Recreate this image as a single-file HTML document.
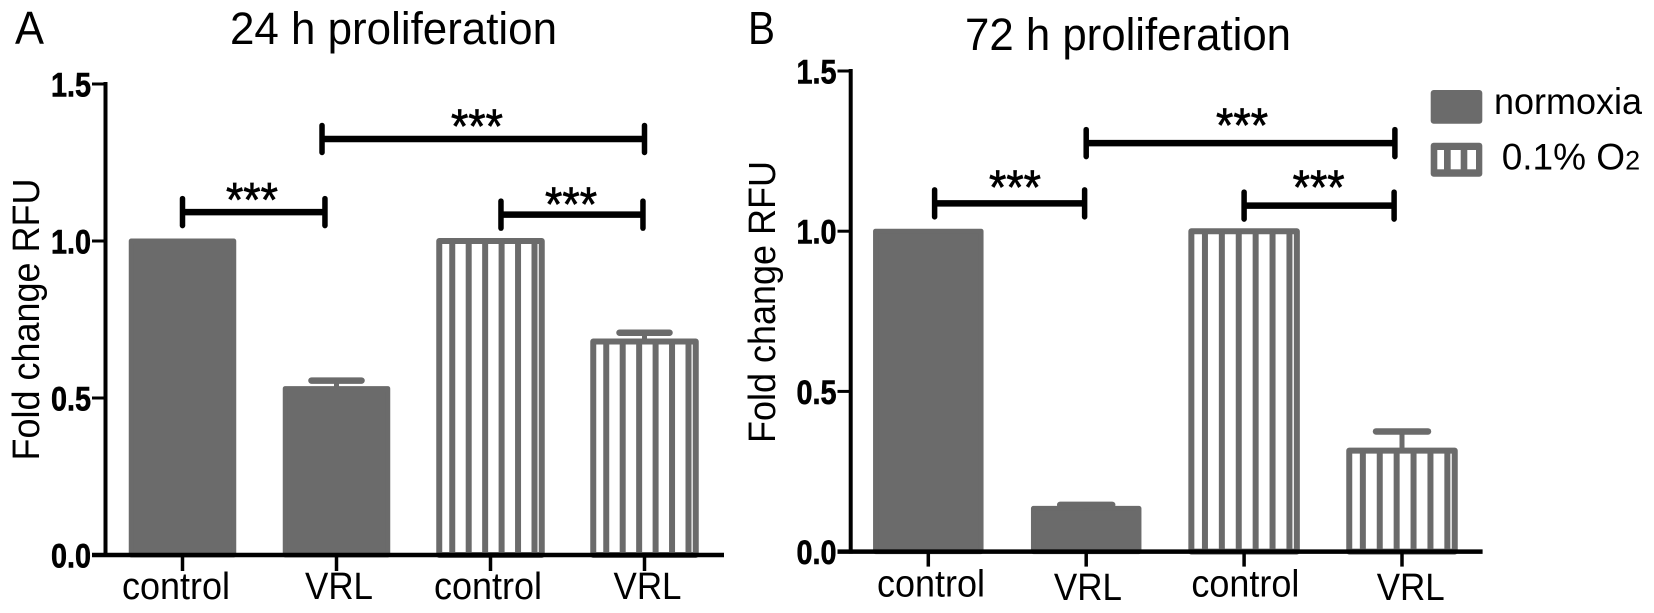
<!DOCTYPE html>
<html lang="en">
<head>
<meta charset="utf-8">
<title>Proliferation at 24 h and 72 h</title>
<style>
  html, body { margin: 0; padding: 0; background: #fff; }
  body { width: 1654px; height: 613px; overflow: hidden; }
  svg { display: block; }
  text { font-family: "Liberation Sans", sans-serif; fill: #000; }
</style>
</head>
<body>
<svg id="figure" xmlns="http://www.w3.org/2000/svg" width="1654" height="613" viewBox="0 0 1654 613">
  <rect x="0" y="0" width="1654" height="613" fill="#fff"/>
  <text x="15" y="44" font-size="46" textLength="29" lengthAdjust="spacingAndGlyphs">A</text>
  <text x="748" y="44" font-size="46" textLength="27" lengthAdjust="spacingAndGlyphs">B</text>
  <text x="230" y="44" font-size="45" textLength="327" lengthAdjust="spacingAndGlyphs">24 h proliferation</text>
  <text x="965" y="50" font-size="45" textLength="326" lengthAdjust="spacingAndGlyphs">72 h proliferation</text>
  <text transform="translate(39 460.5) rotate(-90)" font-size="38" textLength="282" lengthAdjust="spacingAndGlyphs">Fold change RFU</text>
  <text transform="translate(775 443) rotate(-90)" font-size="38" textLength="282" lengthAdjust="spacingAndGlyphs">Fold change RFU</text>

  <g>
    <rect x="1430.7" y="90" width="51.6" height="33.7" rx="3" fill="#6b6b6b"/>
    <text x="1494" y="114" font-size="37" textLength="148" lengthAdjust="spacingAndGlyphs">normoxia</text>
    <g>
      <rect x="1430.7" y="142.7" width="51.6" height="34" rx="3" fill="#6b6b6b"/>
      <rect x="1437.3" y="150" width="6.7" height="19.3" fill="#fff"/>
      <rect x="1450.7" y="150" width="10" height="19.3" fill="#fff"/>
      <rect x="1467.3" y="150" width="8.7" height="19.3" fill="#fff"/>
    </g>
    <text x="1501.7" y="169.3" font-size="37" xml:space="preserve">0.1% O<tspan font-size="27">2</tspan></text>
  </g>
  <g id="panel-a"></g>
  <g id="panel-b"></g>
</svg>
<script>
// ---- chart data ----
const categories = ['control', 'VRL', 'control', 'VRL'];
const conditions = ['normoxia', 'normoxia', 'hypoxia', 'hypoxia'];
const yTicks = [0, 0.5, 1, 1.5];
const yTickLabels = ['0.0', '0.5', '1.0', '1.5'];

const valuesA = [1.0, 0.53, 1.0, 0.68];
const errorsA = [0, 0.0255, 0, 0.028];
const valuesB = [1.0, 0.135, 1.0, 0.315];
const errorsB = [0, 0.011, 0, 0.06];

// significance brackets, in category units (x) and fold-change units (level)
const bracketFromA = [0.906, 0, 2.068];
const bracketToA = [3.0, 0.925, 2.99];
const bracketLevelA = [1.325, 1.092, 1.084];
const starXA = [1.912, 0.451, 2.523];
const starLevelA = [1.313, 1.079, 1.065];

const bracketFromB = [1.0, 0.04, 2.0];
const bracketToB = [2.955, 0.99, 2.95];
const bracketLevelB = [1.275, 1.087, 1.08];
const starXB = [1.987, 0.549, 2.472];
const starLevelB = [1.28, 1.086, 1.086];

const starText = '***';
const GREY = '#6b6b6b';
const SVG_NS = 'http://www.w3.org/2000/svg';

function mk(parent, tag, attrs) {
  const el = document.createElementNS(SVG_NS, tag);
  for (const k in attrs) el.setAttribute(k, attrs[k]);
  parent.appendChild(el);
  return el;
}

function drawPanel(root, p) {
  const xPos = i => p.x0 + p.step * i;
  const yPos = v => p.y0 - p.yScale * v;

  // bars
  p.values.forEach((v, i) => {
    const c = xPos(i);
    const left = c - p.barW / 2;
    const top = yPos(v);
    const base = yPos(0);
    const g = mk(root, 'g', {});
    
    
    if (conditions[i] === 'normoxia') {
      const r = mk(g, 'rect', { x: left, y: top, width: p.barW, height: base - top, fill: GREY, stroke: GREY, 'stroke-width': 5, 'stroke-linejoin': 'round' });
      
      
    } else {
      const r = mk(g, 'rect', { x: left, y: top, width: p.barW, height: base - top, fill: '#fff', stroke: GREY, 'stroke-width': 6, 'stroke-linejoin': 'round' });
      
      
      for (let sx = left + p.hatchFirst; sx < left + p.barW - 3; sx += p.hatchStep) {
        const s = mk(g, 'line', { x1: sx, x2: sx, y1: top, y2: base, stroke: GREY, 'stroke-width': 6 });
        
        
      }
    }
    // error bar
    if (p.errors[i] > 0) {
      const eTop = yPos(v + p.errors[i]);
      const stem = mk(g, 'line', { x1: c, x2: c, y1: top, y2: eTop, stroke: GREY, 'stroke-width': 5 });
      
      
      const cap = mk(g, 'line', { x1: c - p.capW / 2, x2: c + p.capW / 2, y1: eTop, y2: eTop, stroke: GREY, 'stroke-width': 6.5, 'stroke-linecap': 'round' });
      
      
    }
  });

  // y axis
  const yAxis = mk(root, 'line', { x1: p.axisX, x2: p.axisX, y1: yPos(1.5) - 2, y2: yPos(0) + 2, stroke: '#000', 'stroke-width': 4 });
  
  
  yTicks.forEach((t, i) => {
    const y = yPos(t);
    const tick = mk(root, 'line', { x1: p.axisLeft, x2: p.axisX, y1: y, y2: y, stroke: '#000', 'stroke-width': 3 });
    
    
    const lab = mk(root, 'text', { x: p.axisLeft - 1, y: y + 12.5, 'text-anchor': 'end', 'font-size': 34, 'font-weight': 'bold', textLength: 40, lengthAdjust: 'spacingAndGlyphs', stroke: '#000', 'stroke-width': 0.6 });
    lab.textContent = yTickLabels[i];
    
    
  });

  // x axis
  const xAxis = mk(root, 'line', { x1: p.axisLeft, x2: p.axisRight, y1: yPos(0), y2: yPos(0), stroke: '#000', 'stroke-width': 4.5 });
  
  
  categories.forEach((name, i) => {
    const c = xPos(i);
    const tick = mk(root, 'line', { x1: c, x2: c, y1: yPos(0), y2: yPos(0) + p.tickLen, stroke: '#000', 'stroke-width': 3.5 });
    
    
    const lab = mk(root, 'text', { x: c + p.labelNudge[i], y: p.labelBase[i], 'text-anchor': 'middle', 'font-size': 38, textLength: name === 'VRL' ? 68 : 108, lengthAdjust: 'spacingAndGlyphs' });
    lab.textContent = name;
    
    
  });

  // significance brackets
  p.brFrom.forEach((f, i) => {
    const y = yPos(p.brLevel[i]);
    const x1 = xPos(f);
    const x2 = xPos(p.brTo[i]);
    const g = mk(root, 'g', { stroke: '#000', fill: 'none' });
    
    
    const h = mk(g, 'line', { x1: x1, x2: x2, y1: y, y2: y, 'stroke-width': 6.5 });
    
    
    const e1 = mk(g, 'line', { x1: x1, x2: x1, y1: y - 13.5, y2: y + 13.5, 'stroke-width': 5.5, 'stroke-linecap': 'round' });
    
    
    const e2 = mk(g, 'line', { x1: x2, x2: x2, y1: y - 13.5, y2: y + 13.5, 'stroke-width': 5.5, 'stroke-linecap': 'round' });
    
    
    const st = mk(root, 'text', { x: xPos(p.starX[i]), y: yPos(p.starLevel[i]), 'text-anchor': 'middle', 'font-size': 48, textLength: 52, lengthAdjust: 'spacingAndGlyphs', stroke: '#000', 'stroke-width': 0.7 });
    st.textContent = starText;
    
    
  });
}

drawPanel(document.getElementById('panel-a'), {
  x0: 182.5, step: 154, y0: 555, yScale: 314, barW: 102.5, capW: 50,
  hatchFirst: 13, hatchStep: 16.45,
  axisX: 105.5, axisLeft: 92, axisRight: 724, tickLen: 16,
  labelNudge: [-6.5, 2.5, -2.5, 3], labelBase: [599, 599, 599, 599],
  values: valuesA, errors: errorsA,
  brFrom: bracketFromA, brTo: bracketToA, brLevel: bracketLevelA,
  starX: starXA, starLevel: starLevelA
});

drawPanel(document.getElementById('panel-b'), {
  x0: 928.3, step: 157.9, y0: 551.6, yScale: 320.4, barW: 105.5, capW: 52,
  hatchFirst: 13.6, hatchStep: 16.9,
  axisX: 850.7, axisLeft: 837.5, axisRight: 1482.6, tickLen: 15,
  labelNudge: [2.7, 1.7, 1.3, 8.7], labelBase: [596.5, 600, 596.5, 600],
  values: valuesB, errors: errorsB,
  brFrom: bracketFromB, brTo: bracketToB, brLevel: bracketLevelB,
  starX: starXB, starLevel: starLevelB
});
</script>
</body>
</html>
